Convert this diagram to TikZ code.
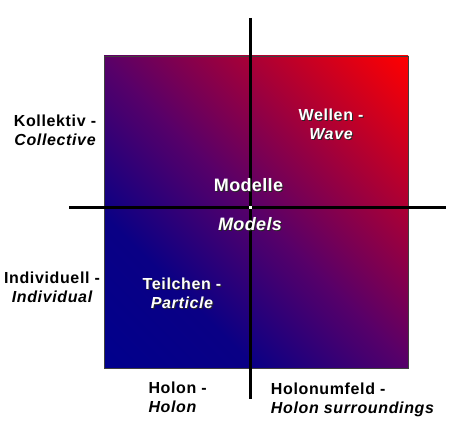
\documentclass[tikz,border=0pt]{standalone}
\usepackage{fontspec}
\setmainfont{Liberation Sans}
\newfontfamily\lblfont[LetterSpace=4]{Liberation Sans}
\newfontfamily\bigfont[LetterSpace=2]{Liberation Sans}
\pgfdeclareverticalshading{quadshade}{100bp}{rgb(0bp)=(0,0,0.55); rgb(14.6bp)=(0,0,0.55); rgb(32bp)=(0.04,0,0.52); rgb(50bp)=(0.345,0,0.41); rgb(85.4bp)=(1,0,0); rgb(100bp)=(1,0,0)}
\tikzset{
  lbl/.style={inner sep=0pt, font=\lblfont\fontsize{16}{19.4}\selectfont\bfseries, text=black},
  wlbl/.style={lbl, text=white},
  slbl/.style={lbl, text=black!85},
  biglbl/.style={inner sep=0pt, anchor=base, font=\bigfont\fontsize{18}{21}\selectfont\bfseries, text=white},
  bigshadow/.style={biglbl, text=black!85},
  axisline/.style={line width=3pt, black},
}
\begin{document}
\begin{tikzpicture}[x=1pt,y=-1pt]
\useasboundingbox (0,0) rectangle (454,435);
% gradient square
\shade[shading=quadshade, shading angle=-45] (104,56) rectangle (408,368);
\draw[line width=0.8pt, black!75] (104,56) rectangle (408,368);
% axes
\coordinate (hl) at (69,207.5);
\coordinate (hr) at (446,207.5);
\coordinate (vt) at (250,18);
\coordinate (vb) at (250,399);
\draw[axisline] (hl) -- (hr);
\draw[axisline] (vt) -- (vb);
\fill[white] (248.5,206) rectangle (251.5,209);
% outside labels
\node[lbl, anchor=north, align=center] (koll) at (55,114.5) {Kollektiv -\\\itshape Collective};
\node[lbl, anchor=north, align=center] (indiv) at (52,271.8) {Individuell -\\\itshape Individual};
\node[lbl, anchor=north west, align=left] (holon) at (148.3,381.8) {Holon -\\\itshape Holon};
\node[lbl, anchor=north west, align=left] (holonum) at (270.7,382.5) {Holonumfeld -\\\itshape Holon surroundings};
% inside labels with shadow
\node[slbl, anchor=north, align=center] (wellen-sh) at (332,109.5) {Wellen -\\\itshape Wave};
\node[wlbl, anchor=north, align=center] (wellen) at (331,108.5) {Wellen -\\\itshape Wave};
\node[slbl, anchor=north, align=center] (teil-sh) at (183,278.8) {Teilchen -\\\itshape Particle};
\node[wlbl, anchor=north, align=center] (teil) at (182,277.8) {Teilchen -\\\itshape Particle};
\node[bigshadow] (modelle-sh) at (249.5,192.7) {Modelle};
\node[biglbl] (modelle) at (248.5,191.7) {Modelle};
\node[bigshadow] (models-sh) at (251,232) {\itshape Models};
\node[biglbl] (models) at (250,231) {\itshape Models};
\end{tikzpicture}
\end{document}
